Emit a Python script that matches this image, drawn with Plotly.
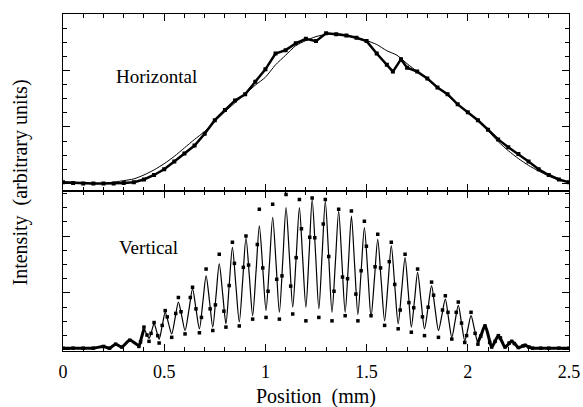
import plotly.graph_objects as go

# ---------------- Horizontal profile ----------------
horiz_meas_x = [0.00, 0.05, 0.10, 0.15, 0.20, 0.25, 0.30, 0.35, 0.40, 0.45, 0.50, 0.55, 0.60, 0.65,
                0.70, 0.75, 0.80, 0.85, 0.90, 0.95, 1.00, 1.05, 1.10, 1.15, 1.20, 1.25, 1.30, 1.35,
                1.40, 1.45, 1.50, 1.55, 1.60, 1.63, 1.67, 1.70, 1.75, 1.80, 1.85, 1.90, 1.95, 2.00,
                2.05, 2.10, 2.15, 2.20, 2.25, 2.30, 2.35, 2.40, 2.45, 2.50]
horiz_meas_y = [0.02, 0.01, 0.00, 0.00, 0.00, 0.00, 0.01, 0.02, 0.07, 0.15, 0.25, 0.39, 0.53, 0.67,
                0.88, 1.12, 1.30, 1.47, 1.58, 1.80, 2.02, 2.30, 2.36, 2.48, 2.56, 2.52, 2.66, 2.64,
                2.62, 2.58, 2.52, 2.30, 2.10, 1.98, 2.20, 2.05, 1.98, 1.86, 1.70, 1.58, 1.40, 1.26,
                1.12, 0.95, 0.78, 0.64, 0.52, 0.39, 0.25, 0.15, 0.07, 0.02]

horiz_theory_x = [0.00, 0.20, 0.30, 0.35, 0.40, 0.45, 0.50, 0.55, 0.60, 0.65, 0.70, 0.75, 0.80, 0.85,
                  0.90, 0.95, 1.00, 1.05, 1.10, 1.15, 1.20, 1.25, 1.30, 1.35, 1.40, 1.45, 1.50, 1.55,
                  1.60, 1.65, 1.70, 1.75, 1.80, 1.85, 1.90, 1.95, 2.00, 2.05, 2.10, 2.15, 2.20, 2.25,
                  2.30, 2.35, 2.40, 2.45, 2.50]
horiz_theory_y = [0.00, 0.00, 0.05, 0.08, 0.15, 0.24, 0.35, 0.48, 0.63, 0.78, 0.92, 1.10, 1.27, 1.43,
                  1.58, 1.74, 1.88, 2.10, 2.27, 2.44, 2.53, 2.60, 2.64, 2.65, 2.63, 2.58, 2.53, 2.46,
                  2.35, 2.27, 2.12, 1.98, 1.84, 1.70, 1.56, 1.40, 1.25, 1.10, 0.93, 0.74, 0.58, 0.44,
                  0.32, 0.22, 0.13, 0.06, 0.02]

# ---------------- Vertical profile (fringes) ----------------
vert_lead_x = [0.00, 0.05, 0.10, 0.15, 0.20, 0.23, 0.26, 0.29, 0.33]
vert_lead_y = [0.03, 0.03, 0.03, 0.03, 0.06, 0.03, 0.10, 0.05, 0.17]

# extremes of the fringes (alternating trough / peak)
vert_ext_x = [0.375, 0.400, 0.425, 0.450, 0.475, 0.505, 0.537, 0.570, 0.603, 0.640, 0.674, 0.707,
              0.740, 0.772, 0.805, 0.837, 0.871, 0.904, 0.937, 0.970, 1.003, 1.036, 1.069, 1.102,
              1.135, 1.168, 1.200, 1.231, 1.264, 1.296, 1.329, 1.362, 1.394, 1.425, 1.457, 1.489,
              1.522, 1.555, 1.589, 1.622, 1.656, 1.690, 1.721, 1.752, 1.786, 1.821, 1.855, 1.889,
              1.921, 1.953, 1.985, 2.016, 2.050, 2.085, 2.118, 2.151, 2.184, 2.217, 2.250, 2.283,
              2.320]
vert_theory_ext = [0.08, 0.37, 0.20, 0.46, 0.19, 0.66, 0.28, 0.84, 0.34, 1.07, 0.37, 1.30,
                   0.40, 1.51, 0.46, 1.80, 0.49, 1.97, 0.60, 2.18, 0.69, 2.33, 0.66, 2.50,
                   0.75, 2.50, 0.75, 2.64, 0.72, 2.61, 0.66, 2.44, 0.66, 2.35, 0.62, 2.15,
                   0.58, 1.94, 0.51, 1.83, 0.46, 1.62, 0.40, 1.36, 0.37, 1.13, 0.34, 0.89,
                   0.22, 0.78, 0.16, 0.60, 0.13, 0.43, 0.05, 0.25, 0.05, 0.15, 0.04, 0.08,
                   0.03]
vert_meas_ext = [0.06, 0.40, 0.15, 0.48, 0.12, 0.69, 0.22, 0.92, 0.28, 1.10, 0.30, 1.42,
                 0.34, 1.68, 0.40, 1.89, 0.42, 2.00, 0.54, 2.47, 0.57, 2.56, 0.54, 2.73,
                 0.63, 2.64, 0.51, 2.67, 0.57, 2.64, 0.51, 2.47, 0.60, 2.44, 0.51, 2.26,
                 0.60, 2.03, 0.43, 1.89, 0.37, 1.68, 0.31, 1.42, 0.25, 1.19, 0.22, 0.95,
                 0.19, 0.84, 0.13, 0.66, 0.10, 0.42, 0.05, 0.25, 0.05, 0.15, 0.04, 0.08,
                 0.03]
vert_tail_x = [2.36, 2.40, 2.45, 2.50]
vert_tail_y = [0.03, 0.03, 0.03, 0.03]

# theory curve at half-height between extremes
vert_mid_x = [0.388, 0.413, 0.438, 0.463, 0.490, 0.521, 0.554, 0.587, 0.622, 0.657, 0.691, 0.724,
              0.756, 0.789, 0.821, 0.854, 0.888, 0.921, 0.954, 0.987, 1.020, 1.053, 1.086, 1.119,
              1.152, 1.184, 1.216, 1.248, 1.280, 1.313, 1.346, 1.378, 1.410, 1.441, 1.473, 1.506,
              1.539, 1.572, 1.606, 1.639, 1.673, 1.706, 1.737, 1.769, 1.804, 1.838, 1.872, 1.905,
              1.937, 1.969, 2.001, 2.033, 2.068, 2.102, 2.135, 2.168, 2.201, 2.234, 2.267, 2.302]
vert_mid_y = [0.22, 0.28, 0.33, 0.32, 0.42, 0.47, 0.56, 0.59, 0.70, 0.72, 0.84, 0.85,
              0.95, 0.98, 1.13, 1.14, 1.23, 1.28, 1.39, 1.43, 1.51, 1.50, 1.58, 1.62,
              1.62, 1.62, 1.69, 1.68, 1.66, 1.63, 1.55, 1.55, 1.50, 1.48, 1.38, 1.36,
              1.26, 1.22, 1.17, 1.14, 1.04, 1.01, 0.88, 0.86, 0.75, 0.73, 0.61, 0.55,
              0.50, 0.47, 0.38, 0.36, 0.28, 0.24, 0.15, 0.15, 0.10, 0.10, 0.06, 0.05]

# measured samples on the fringe slopes
vert_slope_x = [0.383, 0.415, 0.435, 0.468, 0.490, 0.515, 0.557, 0.583, 0.629, 0.657, 0.684, 0.727,
                0.753, 0.795, 0.821, 0.847, 0.891, 0.917, 0.960, 0.987, 1.013, 1.056, 1.082, 1.125,
                1.152, 1.178, 1.219, 1.244, 1.286, 1.313, 1.339, 1.381, 1.406, 1.447, 1.473, 1.499,
                1.542, 1.569, 1.612, 1.639, 1.666, 1.709, 1.733, 1.776, 1.804, 1.831, 1.875, 1.902,
                1.943, 1.969, 1.994, 2.036, 2.064, 2.108, 2.135, 2.161, 2.204, 2.230, 2.273, 2.302]
vert_slope_y = [0.14, 0.26, 0.29, 0.25, 0.43, 0.58, 0.64, 0.67, 0.92, 0.72, 0.57, 0.72,
                0.79, 0.68, 1.13, 1.52, 1.45, 1.49, 1.85, 1.44, 1.03, 1.24, 1.30, 1.12,
                1.62, 2.13, 1.98, 1.97, 2.21, 1.64, 1.03, 1.28, 1.25, 0.98, 1.39, 1.82,
                1.46, 1.44, 1.55, 1.15, 0.70, 0.83, 0.74, 0.58, 0.75, 0.96, 0.70, 0.66,
                0.66, 0.47, 0.25, 0.29, 0.24, 0.13, 0.15, 0.21, 0.12, 0.11, 0.07, 0.05]

FONT = "Liberation Serif"

# theory curve: lead-in, extremes and half-height points in x order, tail
_pts = sorted(zip(vert_ext_x + vert_mid_x, vert_theory_ext + vert_mid_y))
vt_x = vert_lead_x + [p[0] for p in _pts] + vert_tail_x
vt_y = vert_lead_y + [p[1] for p in _pts] + vert_tail_y

# dense measured samples where they merge into a thick trace (lead-in and tail)
lead_x = [x for x in vt_x if x <= 0.40]
lead_y = vt_y[:len(lead_x)]
tail_x = [x for x in vt_x if x >= 2.05]
tail_y = vt_y[len(vt_x) - len(tail_x):]

fig = go.Figure()

# top panel
fig.add_trace(go.Scatter(x=horiz_theory_x, y=horiz_theory_y, mode="lines",
                         line=dict(color="black", width=1, shape="spline", smoothing=0.6),
                         xaxis="x", yaxis="y", showlegend=False))
fig.add_trace(go.Scatter(x=horiz_meas_x, y=horiz_meas_y, mode="lines+markers",
                         line=dict(color="black", width=2.5),
                         marker=dict(color="black", size=4, symbol="square"),
                         xaxis="x", yaxis="y", showlegend=False))

# bottom panel
fig.add_trace(go.Scatter(x=vt_x, y=vt_y, mode="lines",
                         line=dict(color="black", width=1.2, shape="spline", smoothing=0.8),
                         xaxis="x2", yaxis="y2", showlegend=False))
for sx, sy in ((lead_x, lead_y), (tail_x, tail_y)):
    fig.add_trace(go.Scatter(x=sx, y=sy, mode="lines",
                             line=dict(color="black", width=3, shape="spline", smoothing=0.8),
                             xaxis="x2", yaxis="y2", showlegend=False))
fig.add_trace(go.Scatter(x=vert_lead_x + vert_ext_x + vert_tail_x + vert_slope_x,
                         y=vert_lead_y + vert_meas_ext + vert_tail_y + vert_slope_y,
                         mode="markers",
                         marker=dict(color="black", size=3.5, symbol="square"),
                         xaxis="x2", yaxis="y2", showlegend=False))

split = (351 - 190.5) / 337

xcommon = dict(range=[0, 2.5], showline=True, linecolor="black", linewidth=1,
               mirror="allticks", ticks="inside", ticklen=7, tickcolor="black",
               tickvals=[0, 0.5, 1, 1.5, 2, 2.5],
               minor=dict(ticks="inside", ticklen=4, dtick=0.1, tick0=0, tickcolor="black"),
               showgrid=False, zeroline=False)
ycommon = dict(showline=True, linecolor="black", linewidth=1, mirror="allticks",
               ticks="inside", ticklen=7, tickcolor="black", tickvals=[0, 1, 2, 3],
               minor=dict(ticks="inside", ticklen=4, dtick=0.25, tick0=0, tickcolor="black"),
               showticklabels=False, showgrid=False, zeroline=False)

fig.update_layout(
    width=583, height=407,
    margin=dict(l=63, r=14, t=14, b=56, autoexpand=False),
    plot_bgcolor="white", paper_bgcolor="white",
    font=dict(family=FONT, color="black", size=19),
    xaxis=dict(**xcommon, anchor="y", showticklabels=False, matches="x2"),
    yaxis=dict(**ycommon, domain=[split, 1], range=[-0.125, 3.0], anchor="x"),
    xaxis2=dict(**xcommon, anchor="y2", showticklabels=True,
                ticktext=["0", "0.5", "1", "1.5", "2", "2.5"],
                tickfont=dict(family=FONT, size=18), ticklabelstandoff=4),
    yaxis2=dict(**ycommon, domain=[0, split], range=[-0.02, 2.8], anchor="x2"),
    annotations=[
        dict(text="Horizontal", x=0.46, y=1.89, xref="x", yref="y", showarrow=False,
             font=dict(family=FONT, size=19)),
        dict(text="Vertical", x=0.42, y=1.80, xref="x2", yref="y2", showarrow=False,
             font=dict(family=FONT, size=19)),
        dict(text="Position  (mm)", x=0.5, y=(351 - 396) / 337, xref="paper", yref="paper",
             showarrow=False, font=dict(family=FONT, size=20), yanchor="middle"),
        dict(text="Intensity  (arbitrary units)", x=(20 - 63) / 506, y=0.5, xref="paper",
             yref="paper", showarrow=False, textangle=-90, font=dict(family=FONT, size=20),
             xanchor="center", yanchor="middle"),
    ],
)

fig.write_html("out.html", config={"displayModeBar": False},
               post_script="document.body.style.margin='0';document.body.style.overflow='hidden';")
